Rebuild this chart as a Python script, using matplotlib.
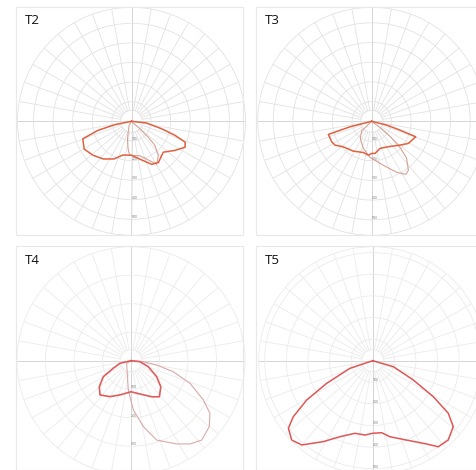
import numpy as np
import matplotlib
matplotlib.use('Agg')
import matplotlib.pyplot as plt
from matplotlib.patches import Rectangle

# ---------------- data (angle from nadir in degrees, + = right; intensity in grid units) -------------
T2_main_ang = [-90, -78.5, -74.9, -70.2, -59.6, -48.6, -36.8, -25, -14.5, 0, 12.5, 25.3, 33.2, 45.8, 56.2, 64.3, 68.8, 72.1, 76.1, 83.5, 90]
T2_main_val = [0, 87, 177, 264, 280, 262, 240, 212, 178, 173, 198, 243, 251, 226, 267, 304, 293, 233, 158, 77, 0]
T2_sub_ang = [-90, -31, -13, -7, -3, 13.7, 25.1, 30.5, 38, 44.2, 46.6, 48.3, 90]
T2_sub_val = [0, 24, 92, 142, 174, 181, 223, 254, 222, 171, 117, 57, 0]

T3_main_ang = [-90, -75.8, -73.1, -62.9, -57, -48.1, -31.7, -15.1, -5.7, 0, 5.9, 17, 33.1, 50, 58.8, 70.6, 72.7, 75.8, 90]
T3_main_val = [0, 114, 230, 228, 222, 194, 178, 164, 173, 163, 164, 144, 154, 188, 217, 237, 150, 79, 0]
T3_sub_ang = [-90, -46.5, -34, -17.3, -2.7, 14.8, 26.1, 32.7, 36.8, 43.4, 47.4, 50.7, 53.1, 90]
T3_sub_val = [0, 70, 104, 144, 183, 231, 288, 320, 311, 258, 195, 120, 63, 0]

T4_main_ang = [-90, -76.7, -66.8, -60, -50.6, -42.1, -30.3, -17.8, 0, 15.1, 29.9, 38.2, 48.8, 58.1, 70.9, 83.7, 90]
T4_main_val = [0, 40, 68, 112, 144, 162, 146, 126, 109, 121, 146, 161, 139, 106, 64, 32, 0]
T4_sub_ang = [-90, -58.8, -5.3, 2.7, 10.6, 18, 28.7, 35.3, 41.7, 49.9, 56.3, 61.5, 69, 75.4, 80.5, 85.4, 90]
T4_sub_val = [0, 18, 103, 173, 235, 293, 333, 358, 373, 359, 333, 289, 222, 153, 92, 43, 0]

T5_main_ang = [-90, -71.5, -63.8, -59.2, -54.8, -51.3, -45.6, -40.1, -31.4, -23.3, -13.7, -5.9, 0, 7.1, 12.8,
               23.2, 33, 37.3, 43.6, 50.7, 55.2, 59.3, 64.6, 73.8, 90]
T5_main_val = [0, 111, 238, 356, 450, 500, 525, 510, 439, 383, 346, 346, 336, 336, 361,
               400, 460, 501, 507, 482, 426, 326, 208, 100, 0]

titles = ["T2", "T3", "T4", "T5"]
ring_values_a = [100, 200, 300, 400, 500]
ring_labels_a = ["100", "200", "300", "400", "500"]
ring_values_b = [100, 200, 300]
ring_labels_b = ["100", "200", "300"]

# ---------------- layout (pixels) ----------------
W, H = 477, 470
fig = plt.figure(figsize=(W / 100, H / 100), dpi=100)
fig.patch.set_facecolor('white')

panels = [
    dict(title=titles[0], box=(16, 7, 243, 235), center=(131.5, 121.3), ppu=19.6,
         rings=(ring_values_a, ring_labels_a), grid='#e2e2e2',
         curves=[(T2_sub_ang, T2_sub_val, '#d6a292', 0.8), (T2_main_ang, T2_main_val, '#e0603f', 1.1)]),
    dict(title=titles[1], box=(256, 7, 477, 235), center=(371.7, 121.3), ppu=19.7,
         rings=(ring_values_a, ring_labels_a), grid='#e2e2e2',
         curves=[(T3_sub_ang, T3_sub_val, '#d6a292', 0.8), (T3_main_ang, T3_main_val, '#e0603f', 1.1)]),
    dict(title=titles[2], box=(16, 246, 243, 470), center=(131, 360.7), ppu=28.5,
         rings=(ring_values_b, ring_labels_b), grid='#ebebeb',
         curves=[(T4_sub_ang, T4_sub_val, '#d9a9a9', 0.8), (T4_main_ang, T4_main_val, '#e05c5c', 1.2)]),
    dict(title=titles[3], box=(256, 246, 477, 470), center=(372.7, 360.7), ppu=21.6,
         rings=(ring_values_a, ring_labels_a), grid='#ebebeb',
         curves=[(T5_main_ang, T5_main_val, '#e05656', 1.1)]),
]

R = 114

def fx(x):
    return x / W

def fy(y):
    return 1 - y / H

for p in panels:
    x0, y0, x1, y1 = p['box']
    fig.patches.append(Rectangle((fx(x0), fy(y1)), (x1 - x0) / W, (y1 - y0) / H,
                                 transform=fig.transFigure, fill=False,
                                 edgecolor='#e8e8e8', lw=0.8))
    cx, cy = p['center']
    ax = fig.add_axes([fx(cx - R), fy(cy + R), 2 * R / W, 2 * R / H], projection='polar')
    ax.set_facecolor('none')
    ax.set_theta_zero_location('S')
    ax.set_theta_direction(1)
    rmax = R / p['ppu'] * 100
    ax.set_thetagrids(np.arange(0, 360, 10), labels=[''] * 36)
    ax.xaxis.grid(False)
    inner = 11 / p['ppu'] * 100
    vals, labs = p['rings']
    ax.set_rgrids([inner] + vals, labels=[''] + labs, fontsize=2.2, color='#777777')
    ax.set_ylim(0, rmax)
    ax.set_rlabel_position(0)
    ax.yaxis.grid(True, color=p['grid'], lw=0.6)
    # spokes every 10 degrees, starting at the small inner circle
    for a in range(0, 360, 10):
        if a % 90 == 0:
            ax.plot([np.deg2rad(a)] * 2, [0, rmax], color='#d4d4d4', lw=0.7, zorder=0.5)
        else:
            ax.plot([np.deg2rad(a)] * 2, [inner, rmax], color=p['grid'], lw=0.6, zorder=0.5)
    ax.spines['polar'].set_color(p['grid'])
    ax.spines['polar'].set_linewidth(0.6)
    ax.tick_params(axis='both', length=0, pad=0)
    for ang, val, col, lw in p['curves']:
        ax.plot(np.deg2rad(ang), val, color=col, lw=lw, solid_joinstyle='round', zorder=3)
    fig.text(fx(x0 + 9), fy(y0 + 7.5), p['title'], fontsize=9.5, family='Open Sans',
             color='#111111', ha='left', va='top')

fig.savefig('out.png', dpi=100, facecolor='white')
